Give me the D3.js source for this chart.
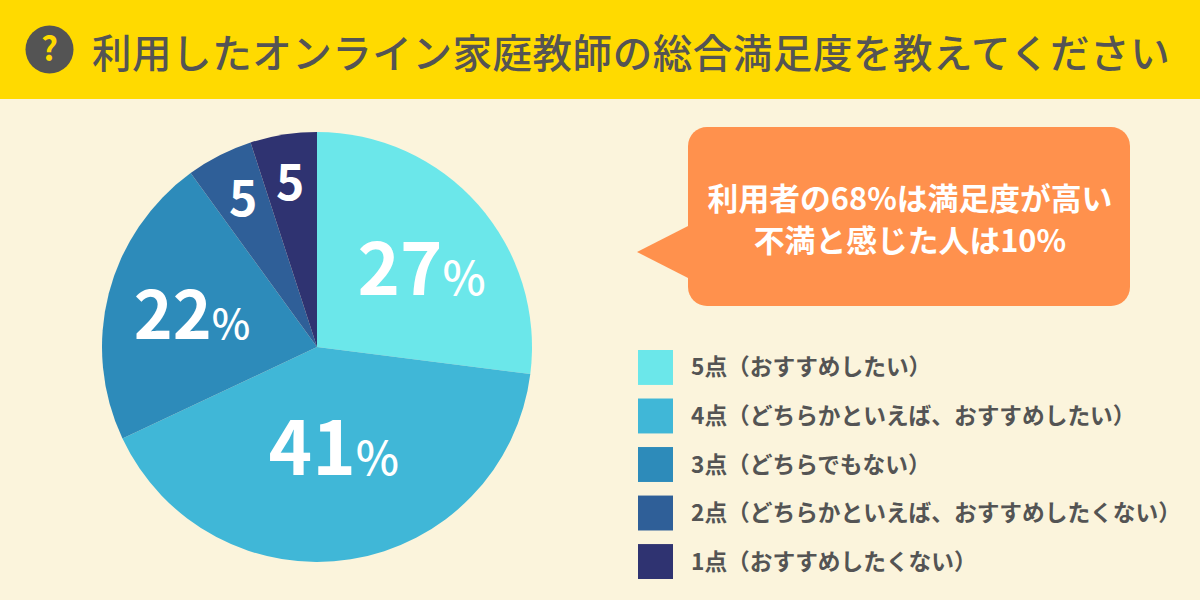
<!DOCTYPE html>
<html lang="ja">
<head>
<meta charset="utf-8">
<script src="https://cdn.jsdelivr.net/npm/d3@7"></script>
<style>
	html, body { margin: 0; padding: 0; background: #fbf4dc; }
	svg { display: block; }
	text { font-family: "Noto Sans CJK JP", "Noto Sans", sans-serif; }
</style>
</head>
<body>
<svg id="chart"></svg>
<script>
const titleText = '利用したオンライン家庭教師の総合満足度を教えてください';
const categories = [
	'5点（おすすめしたい）',
	'4点（どちらかといえば、おすすめしたい）',
	'3点（どちらでもない）',
	'2点（どちらかといえば、おすすめしたくない）',
	'1点（おすすめしたくない）'
];
const values = [27, 41, 22, 5, 5];
const sliceColours = ['#6be7ea', '#40b7d7', '#2d8bba', '#2f5f98', '#2f3371'];
const calloutLines = ['利用者の68%は満足度が高い', '不満と感じた人は10%'];

const width = 1200;
const height = 600;
const textColour = '#545454';

const svg = d3.select('#chart').attr('width', width).attr('height', height);

// header band
svg.append('rect')
	.attr('width', width)
	.attr('height', 99)
	.attr('fill', '#ffda00');

svg.append('circle')
	.attr('cx', 49.5)
	.attr('cy', 49.5)
	.attr('r', 24)
	.attr('fill', textColour);

svg.append('text')
	.attr('x', 49.5)
	.attr('y', 61)
	.attr('text-anchor', 'middle')
	.attr('fill', '#ffda00')
	.style('font-weight', '700')
	.style('font-size', '33px')
	.text('?');

svg.append('text')
	.attr('x', 92)
	.attr('y', 68)
	.attr('fill', textColour)
	.style('font-weight', '500')
	.style('font-size', '39.5px')
	.style('letter-spacing', '0.55px')
	.text(titleText);

// pie
const pieG = svg.append('g').attr('transform', 'translate(317,347)');
const radius = 215;
const colour = d3.scaleOrdinal().domain(categories).range(sliceColours);

const arcs = d3.pie().sort(null)(values);
const arc = d3.arc().innerRadius(0).outerRadius(radius);

pieG.selectAll('path')
	.data(arcs)
	.enter().append('path')
	.attr('d', arc)
	.attr('fill', (d, i) => colour(categories[i]));

// label placement per slice, small slices only show the number
const labelRadius = [130, 101, 129, 165, 166];
const labelShift = [[7, 8], [1, 2], [0, 0], [1, -1], [-1, 0]];
const numberSize = [72, 74, 66, 48, 48];
const percentSize = [46, 46, 41, 0, 0];

const labels = pieG.selectAll('.slice-label')
	.data(arcs)
	.enter().append('text')
	.attr('class', 'slice-label')
	.attr('text-anchor', 'middle')
	.attr('fill', '#fff')
	.attr('transform', (d, i) => {
		const a = (d.startAngle + d.endAngle) / 2;
		const r = labelRadius[i];
		const x = Math.sin(a) * r + labelShift[i][0];
		const y = -Math.cos(a) * r + numberSize[i] * 0.36 + labelShift[i][1];
		return `translate(${x},${y})`;
	});

labels.append('tspan')
	.style('font-weight', '700')
	.style('font-size', (d, i) => numberSize[i] + 'px')
	.text(d => d.data);

labels.filter(d => d.data >= 10).append('tspan')
	.style('font-weight', '500')
	.style('font-size', (d, i) => percentSize[i] + 'px')
	.text('%');

// callout
svg.append('path')
	.attr('d', 'M690,225L637,252L690,279Z')
	.attr('fill', '#ff914d');

svg.append('rect')
	.attr('x', 688)
	.attr('y', 127)
	.attr('width', 442)
	.attr('height', 179)
	.attr('rx', 19)
	.attr('fill', '#ff914d');

svg.selectAll('.callout-line')
	.data(calloutLines)
	.enter().append('text')
	.attr('class', 'callout-line')
	.attr('x', 910)
	.attr('y', (d, i) => 210 + i * 42)
	.attr('text-anchor', 'middle')
	.attr('fill', '#fff')
	.style('font-weight', '700')
	.style('font-size', '30.8px')
	.text(d => d);

// legend
const legendY = d3.scaleBand()
	.domain(categories)
	.range([350, 579])
	.paddingInner(0.28);

const legend = svg.selectAll('.legend-item')
	.data(categories)
	.enter().append('g')
	.attr('class', 'legend-item')
	.attr('transform', d => `translate(638,${legendY(d)})`);

legend.append('rect')
	.attr('width', 35)
	.attr('height', legendY.bandwidth())
	.attr('fill', d => colour(d));

legend.append('text')
	.attr('x', 53)
	.attr('y', legendY.bandwidth() / 2 + 8)
	.attr('fill', textColour)
	.style('font-weight', '700')
	.style('font-size', '22.7px')
	.text(d => d);
</script>
</body>
</html>
